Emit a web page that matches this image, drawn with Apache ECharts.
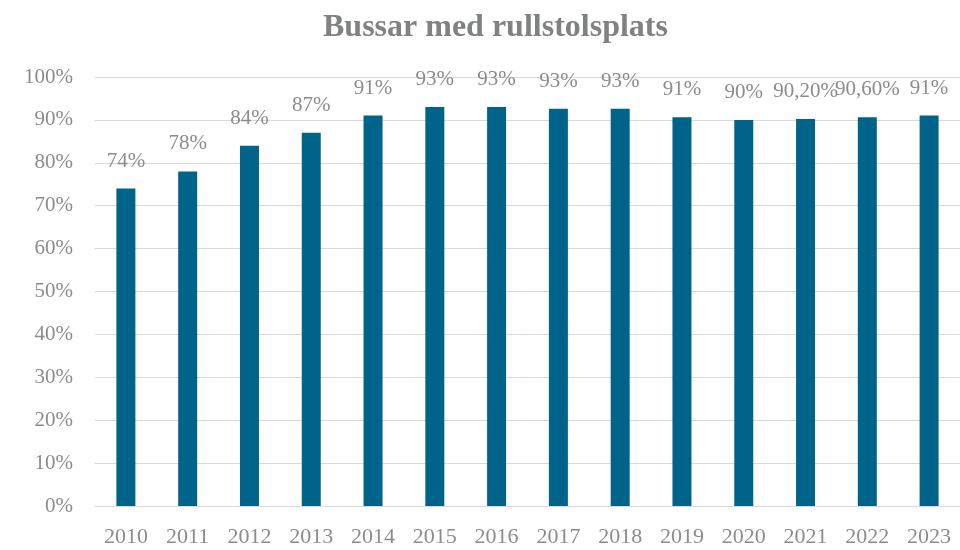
<!DOCTYPE html>
<html>
<head>
<meta charset="utf-8">
<script src="https://cdn.jsdelivr.net/npm/echarts@6/dist/echarts.min.js"></script>
<style>
  html, body { margin: 0; padding: 0; background: #fff; }
  #chart { width: 960px; height: 550px; }
</style>
</head>
<body>
<div id="chart"></div>
<script>
  // data
  const years = ['2010', '2011', '2012', '2013', '2014', '2015', '2016', '2017', '2018', '2019', '2020', '2021', '2022', '2023']
  const shares = [74, 78, 84, 87, 91, 93, 93, 92.6, 92.6, 90.6, 90, 90.2, 90.6, 91]
  const shareLabels = ['74%', '78%', '84%', '87%', '91%', '93%', '93%', '93%', '93%', '91%', '90%', '90,20%', '90,60%', '91%']
  const yTicks = [0, 10, 20, 30, 40, 50, 60, 70, 80, 90, 100]

  const serif = '"Liberation Serif", "DejaVu Serif", serif'
  const grey = '#8c8c8c'

  const chart = echarts.init(document.getElementById('chart'))
  chart.setOption({
    animation: false,
    title: {
      text: 'Bussar med rullstolsplats',
      left: 318,
      top: 7,
      textStyle: {
        fontFamily: serif,
        fontSize: 32,
        fontWeight: 'bold',
        color: '#7f8281'
      }
    },
    grid: {
      left: 95,
      right: 0,
      top: 77,
      bottom: 44
    },
    xAxis: {
      type: 'category',
      data: years,
      axisLine: { lineStyle: { color: '#d9d9d9', width: 1 } },
      axisTick: { show: false },
      axisLabel: {
        margin: 20,
        fontFamily: serif,
        fontSize: 22,
        color: grey
      }
    },
    yAxis: {
      type: 'value',
      min: yTicks[0],
      max: yTicks[yTicks.length - 1],
      interval: 10,
      axisLine: { show: false },
      axisTick: { show: false },
      splitLine: { lineStyle: { color: '#d9d9d9', width: 1 } },
      axisLabel: {
        margin: 22,
        fontFamily: serif,
        fontSize: 21,
        color: grey,
        formatter: '{value}%'
      }
    },
    series: [{
      type: 'bar',
      data: shares,
      barWidth: 19,
      itemStyle: { color: '#00648a' },
      label: {
        show: true,
        position: 'top',
        distance: 17,
        fontFamily: serif,
        fontSize: 21,
        color: grey,
        formatter: p => shareLabels[p.dataIndex]
      }
    }]
  })
</script>
</body>
</html>
